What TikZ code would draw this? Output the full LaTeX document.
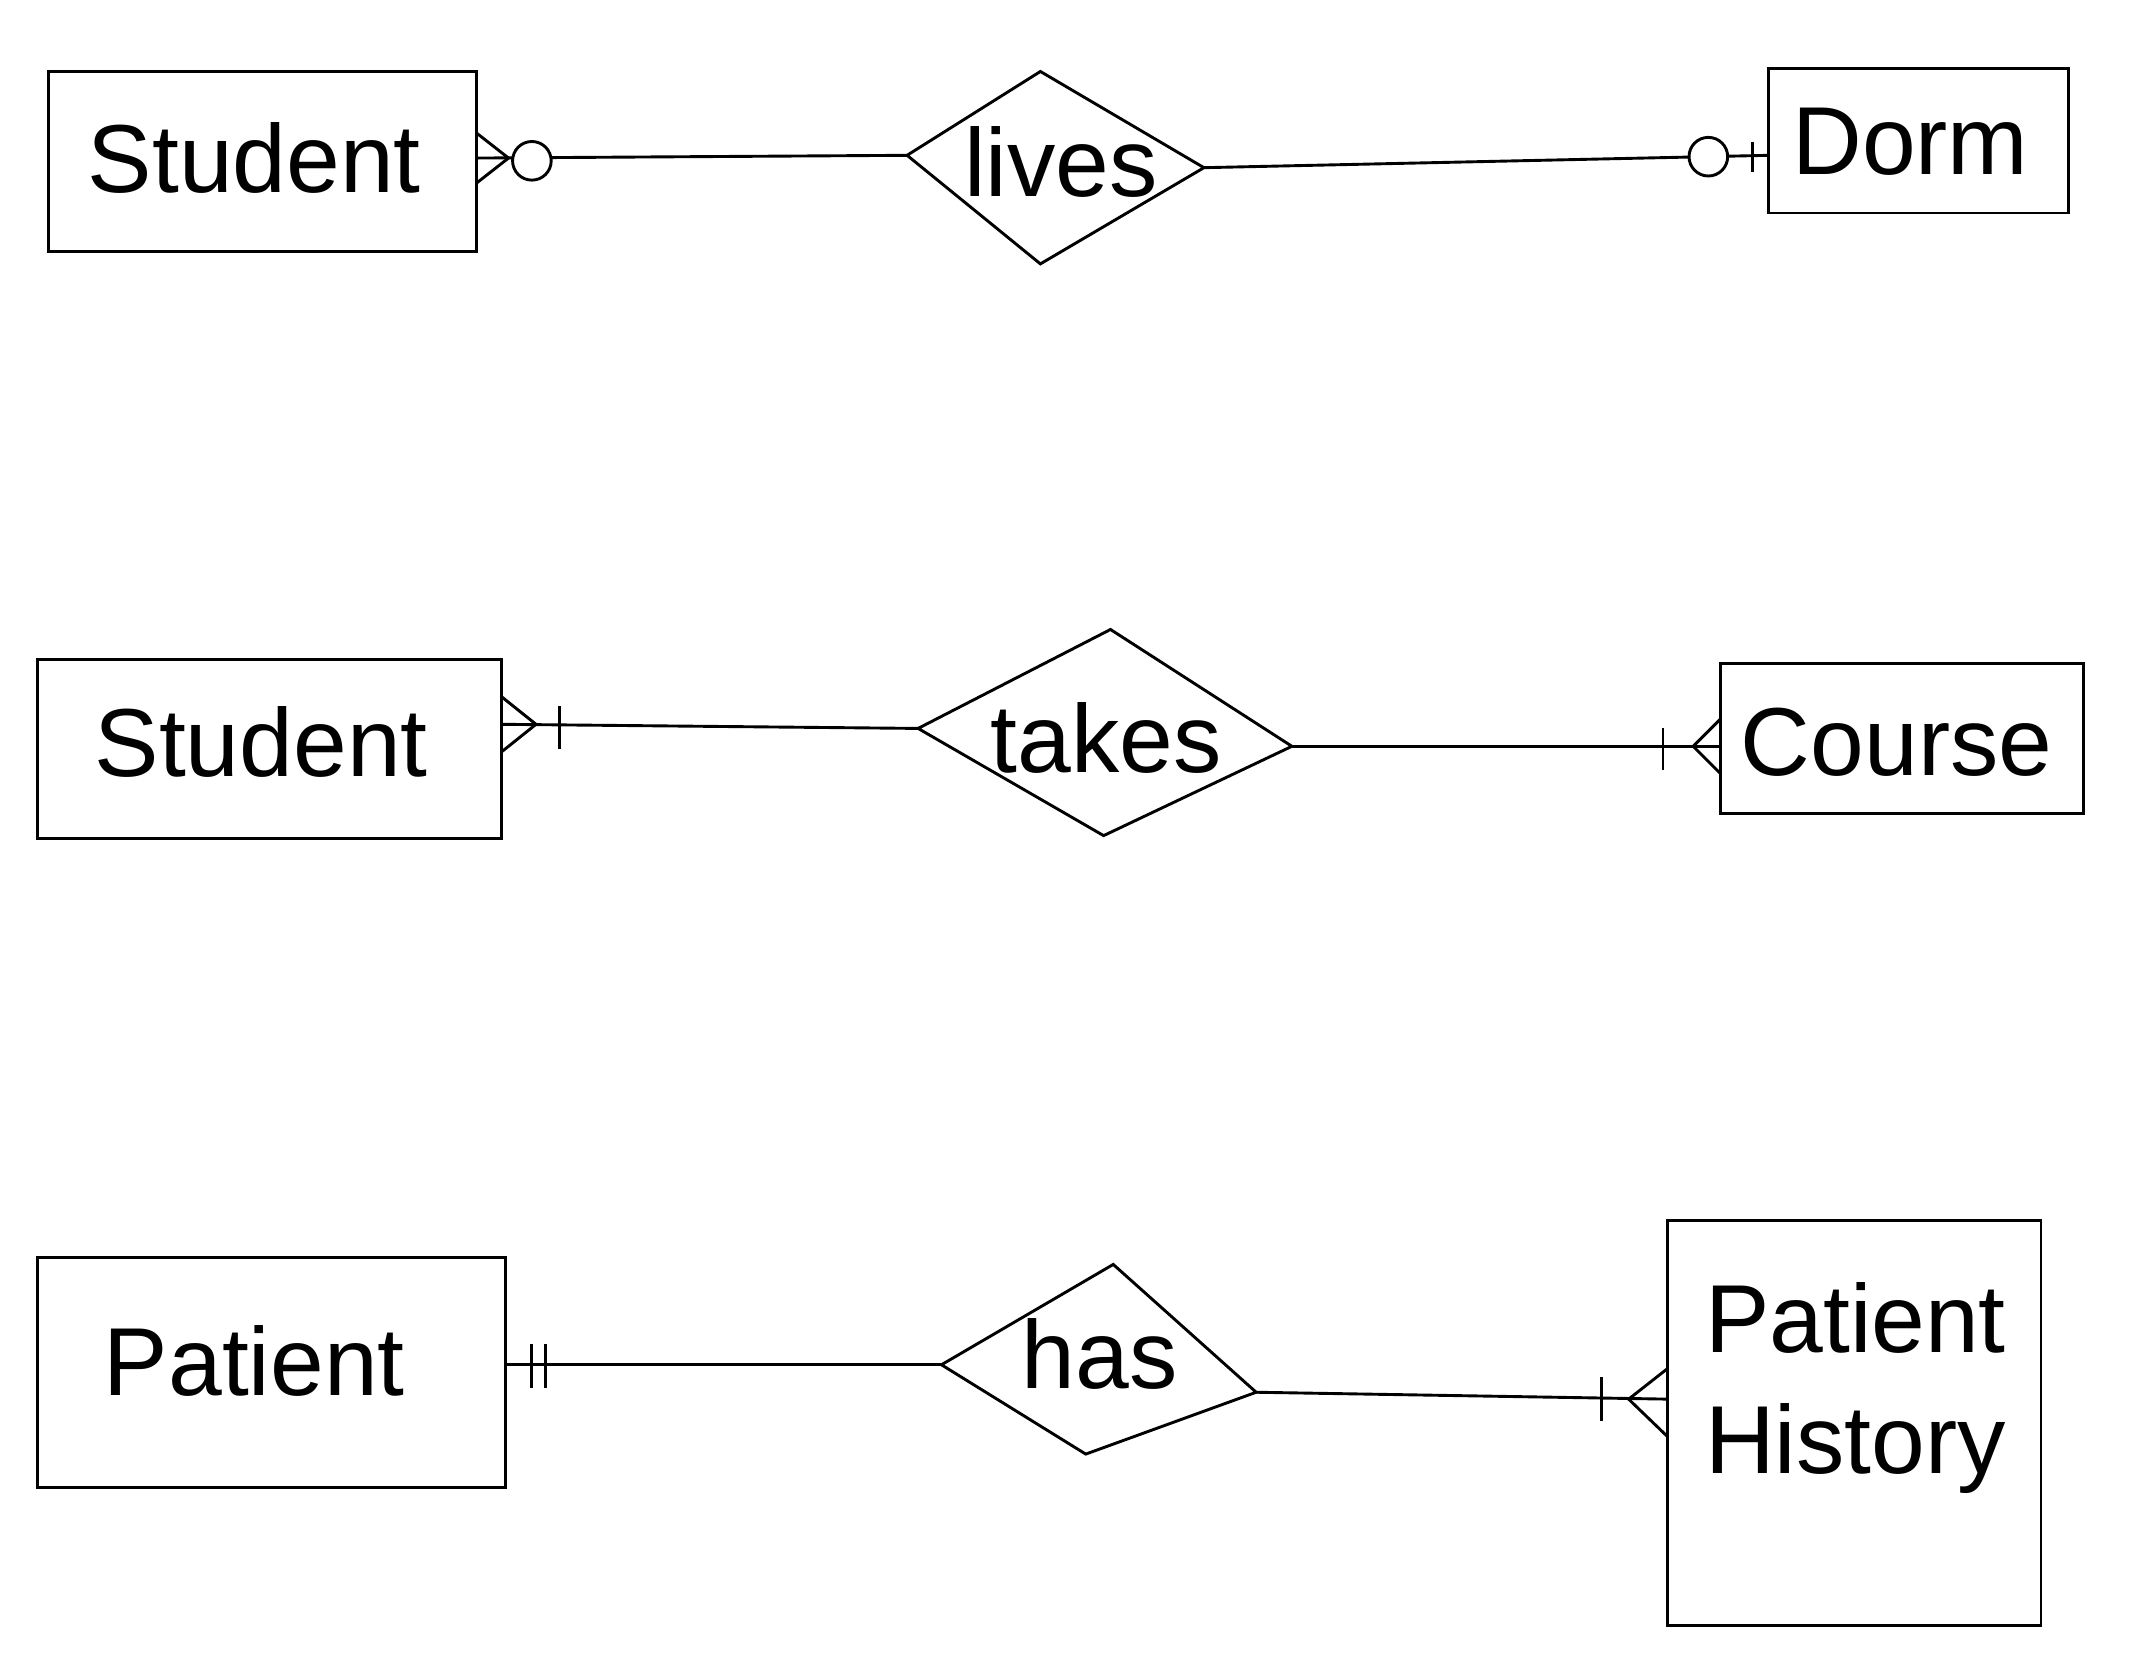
\documentclass[tikz,border=0pt]{standalone}
\usepackage{fontspec}
\setmainfont{Liberation Sans}
\usetikzlibrary{shapes.geometric}
\begin{document}
\begin{tikzpicture}[x=0.02cm,y=-0.02cm,line width=1.2pt,
  lbl/.style={font=\fontsize{40}{50}\selectfont},
  circ/.style={draw,circle,minimum size=16,inner sep=0pt,fill=white}]
\useasboundingbox (0,0) rectangle (1568,1218);
% Row 1
\draw (35,52) rectangle (347,183);
\node[lbl] (s1) at (185,115) {Student};
\draw (660,113) -- (757,52) -- (876,122) -- (757,192) -- cycle;
\node[lbl] (l1) at (772,118) {lives};
\draw (1287,50) rectangle (1505,155);
\node[lbl] (d1) at (1390,103) {Dorm};
\coordinate (a1) at (347,115); \coordinate (b1) at (660,113);
\coordinate (c1) at (876,122); \coordinate (e1) at (1287,113);
\draw (a1) -- (b1);
\draw (347,97) -- (370,115) -- (347,133);
\node[circ] (o1) at (387,117) {};
\draw (c1) -- (e1);
\node[circ] (o2) at (1243,114) {};
\draw (1275,103) -- (1275,125);
% Row 2
\draw (27,480) rectangle (365,610);
\node[lbl] (s2) at (190,540) {Student};
\draw (668,530) -- (808,458) -- (940,543) -- (803,608) -- cycle;
\node[lbl] (t2) at (805,537) {takes};
\draw (1252,483) rectangle (1516,592);
\node[lbl] (c2) at (1380,540) {Course};
\coordinate (a2) at (365,527); \coordinate (b2) at (668,530);
\coordinate (c2r) at (940,543); \coordinate (e2) at (1252,543);
\draw (a2) -- (b2);
\draw (365,507) -- (390,527) -- (365,547);
\draw (407,514) -- (407,545);
\draw (c2r) -- (e2);
\draw (1210,530) -- (1210,560);
\draw (1252,523) -- (1232,543) -- (1252,563);
% Row 3
\draw (27,915) rectangle (368,1082);
\node[lbl] (p3) at (185,990) {Patient};
\draw (685,993) -- (810,920) -- (914,1013) -- (790,1058) -- cycle;
\node[lbl] (h3) at (800,985) {has};
\draw (1213,888) rectangle (1485,1183);
\node[lbl,align=left] (ph) at (1350,1010) {Patient\\History};
\coordinate (a3) at (368,993); \coordinate (b3) at (685,993);
\coordinate (c3) at (914,1013); \coordinate (e3) at (1213,1018);
\draw (a3) -- (b3);
\draw (387,978) -- (387,1010); \draw (397,978) -- (397,1010);
\draw (c3) -- (e3);
\draw (1165,1002) -- (1165,1034);
\draw (1213,996) -- (1185,1018) -- (1213,1045);
\end{tikzpicture}
\end{document}
